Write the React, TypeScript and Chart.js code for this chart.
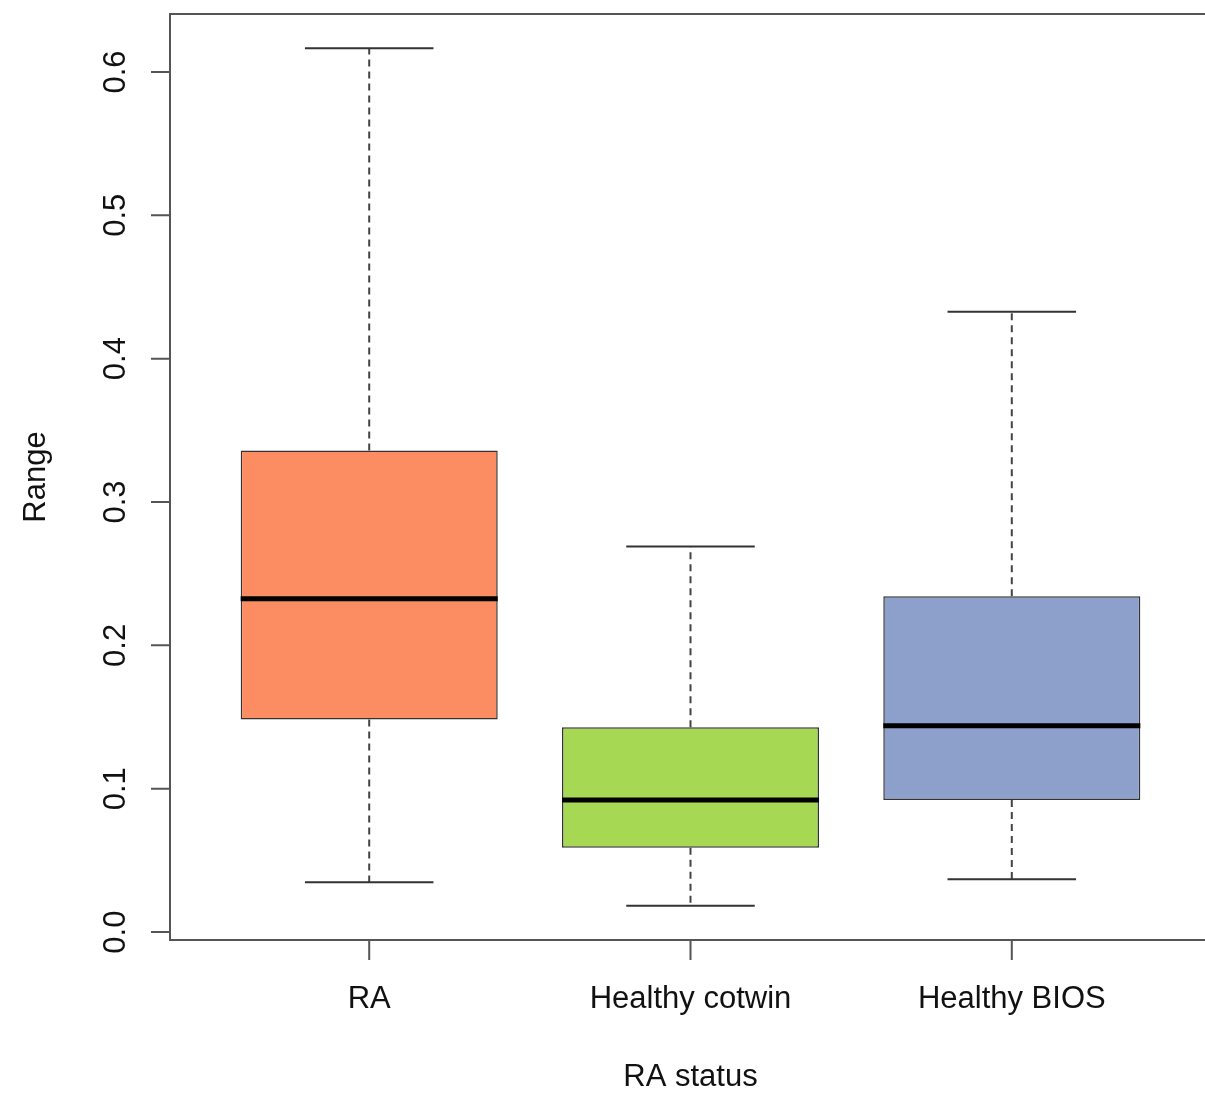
import React, { useEffect, useRef } from "react";
import { Chart, registerables } from "chart.js";

Chart.register(...registerables);

// ---- data ----
const categories = ["RA", "Healthy cotwin", "Healthy BIOS"];
const positions = [1, 2, 3];
const whiskerLow = [0.0348, 0.0184, 0.0369];
const q1 = [0.1483, 0.0588, 0.0921];
const medians = [0.2326, 0.0921, 0.1439];
const q3 = [0.3359, 0.1428, 0.2342];
const whiskerHigh = [0.6165, 0.269, 0.4327];
const boxColors = ["#FC8D62", "#A6D854", "#8DA0CB"];
const yTicks = [0, 0.1, 0.2, 0.3, 0.4, 0.5, 0.6];
const yTickLabels = ["0.0", "0.1", "0.2", "0.3", "0.4", "0.5", "0.6"];
const xTitle = "RA status";
const yTitle = "Range";

const FONT = "31px 'Liberation Sans', Arial, Helvetica, sans-serif";

// R-style axis limits (4% extension)
const dataMin = Math.min(...whiskerLow);
const dataMax = Math.max(...whiskerHigh);
const yPad = (dataMax - dataMin) * 0.04;
const xPad = (positions[positions.length - 1] - positions[0] + 1) * 0.04;

const axesPlugin = {
  id: "rAxes",
  afterDraw(chart: any) {
    const { ctx, chartArea: a, scales } = chart;
    const x = scales.x;
    const y = scales.y;
    ctx.save();
    ctx.strokeStyle = "#555";
    ctx.lineWidth = 2;
    ctx.strokeRect(a.left, a.top, a.right - a.left, a.bottom - a.top);
    ctx.beginPath();
    yTicks.forEach((v) => {
      const py = y.getPixelForValue(v);
      ctx.moveTo(a.left - 19, py);
      ctx.lineTo(a.left, py);
    });
    positions.forEach((v) => {
      const px = x.getPixelForValue(v);
      ctx.moveTo(px, a.bottom);
      ctx.lineTo(px, a.bottom + 20);
    });
    ctx.stroke();

    ctx.fillStyle = "#111";
    ctx.font = FONT;
    ctx.textAlign = "center";
    ctx.textBaseline = "alphabetic";
    positions.forEach((v, i) => {
      ctx.fillText(categories[i], x.getPixelForValue(v), a.bottom + 67.5);
    });
    ctx.fillText(xTitle, (a.left + a.right) / 2, a.bottom + 146);
    yTicks.forEach((v, i) => {
      ctx.save();
      ctx.translate(a.left - 45, y.getPixelForValue(v));
      ctx.rotate(-Math.PI / 2);
      ctx.fillText(yTickLabels[i], 0, 0);
      ctx.restore();
    });
    ctx.save();
    ctx.translate(45, (a.top + a.bottom) / 2);
    ctx.rotate(-Math.PI / 2);
    ctx.fillText(yTitle, 0, 0);
    ctx.restore();
    ctx.restore();
  },
};

function segs(pairs: Array<[number, number, number, number]>) {
  const out: any[] = [];
  pairs.forEach(([x1, y1, x2, y2]) => {
    out.push({ x: x1, y: y1 }, { x: x2, y: y2 }, { x: x2, y: null });
  });
  return out;
}

export default function App() {
  const ref = useRef<HTMLCanvasElement | null>(null);
  useEffect(() => {
    if (!ref.current) return;
    const half = 0.4;
    const capHalf = 0.2;
    const whiskerData = segs(
      positions.flatMap((p, i) => [
        [p, q3[i], p, whiskerHigh[i]] as [number, number, number, number],
        [p, q1[i], p, whiskerLow[i]] as [number, number, number, number],
      ])
    );
    const capData = segs(
      positions.flatMap((p, i) => [
        [p - capHalf, whiskerHigh[i], p + capHalf, whiskerHigh[i]] as [number, number, number, number],
        [p - capHalf, whiskerLow[i], p + capHalf, whiskerLow[i]] as [number, number, number, number],
      ])
    );
    const medianData = segs(
      positions.map((p, i) => [p - half, medians[i], p + half, medians[i]] as [number, number, number, number])
    );
    const lineCommon = {
      type: "line" as const,
      pointRadius: 0,
      tension: 0,
      spanGaps: false,
      fill: false,
      borderCapStyle: "butt" as const,
    };
    const chart = new Chart(ref.current, {
      type: "bar",
      data: {
        datasets: [
          { ...lineCommon, label: "median", data: medianData, borderColor: "#000", borderWidth: 5 } as any,
          { ...lineCommon, label: "caps", data: capData, borderColor: "#333", borderWidth: 2 } as any,
          { ...lineCommon, label: "whiskers", data: whiskerData, borderColor: "#444", borderWidth: 2, borderDash: [7, 5] } as any,
          {
            type: "bar",
            label: "box",
            data: positions.map((p, i) => ({ x: p, y: [q1[i], q3[i]] })),
            backgroundColor: boxColors,
            borderColor: "#333",
            borderWidth: 1.5,
            borderSkipped: false,
            categoryPercentage: 1,
            barPercentage: 0.8,
          } as any,
        ],
      },
      options: {
        responsive: false,
        animation: false,
        events: [],
        layout: { padding: { left: 170, top: 14, right: 4, bottom: 153 } },
        plugins: { legend: { display: false }, tooltip: { enabled: false } },
        scales: {
          x: {
            type: "linear",
            display: false,
            offset: false,
            bounds: "ticks",
            min: positions[0] - 0.5 - xPad,
            max: positions[positions.length - 1] + 0.5 + xPad,
            afterBuildTicks: (scale: any) => {
              scale.ticks = positions.map((v) => ({ value: v }));
            },
          },
          y: {
            type: "linear",
            display: false,
            min: dataMin - yPad,
            max: dataMax + yPad,
          },
        },
      },
      plugins: [axesPlugin],
    } as any);
    return () => chart.destroy();
  }, []);
  return (
    <div
      style={{
        position: "fixed",
        left: 0,
        top: 0,
        width: 1205,
        height: 1093,
        overflow: "hidden",
        background: "#fff",
      }}
    >
      <canvas ref={ref} width={1215} height={1093} style={{ width: 1215, height: 1093, display: "block" }} />
    </div>
  );
}
